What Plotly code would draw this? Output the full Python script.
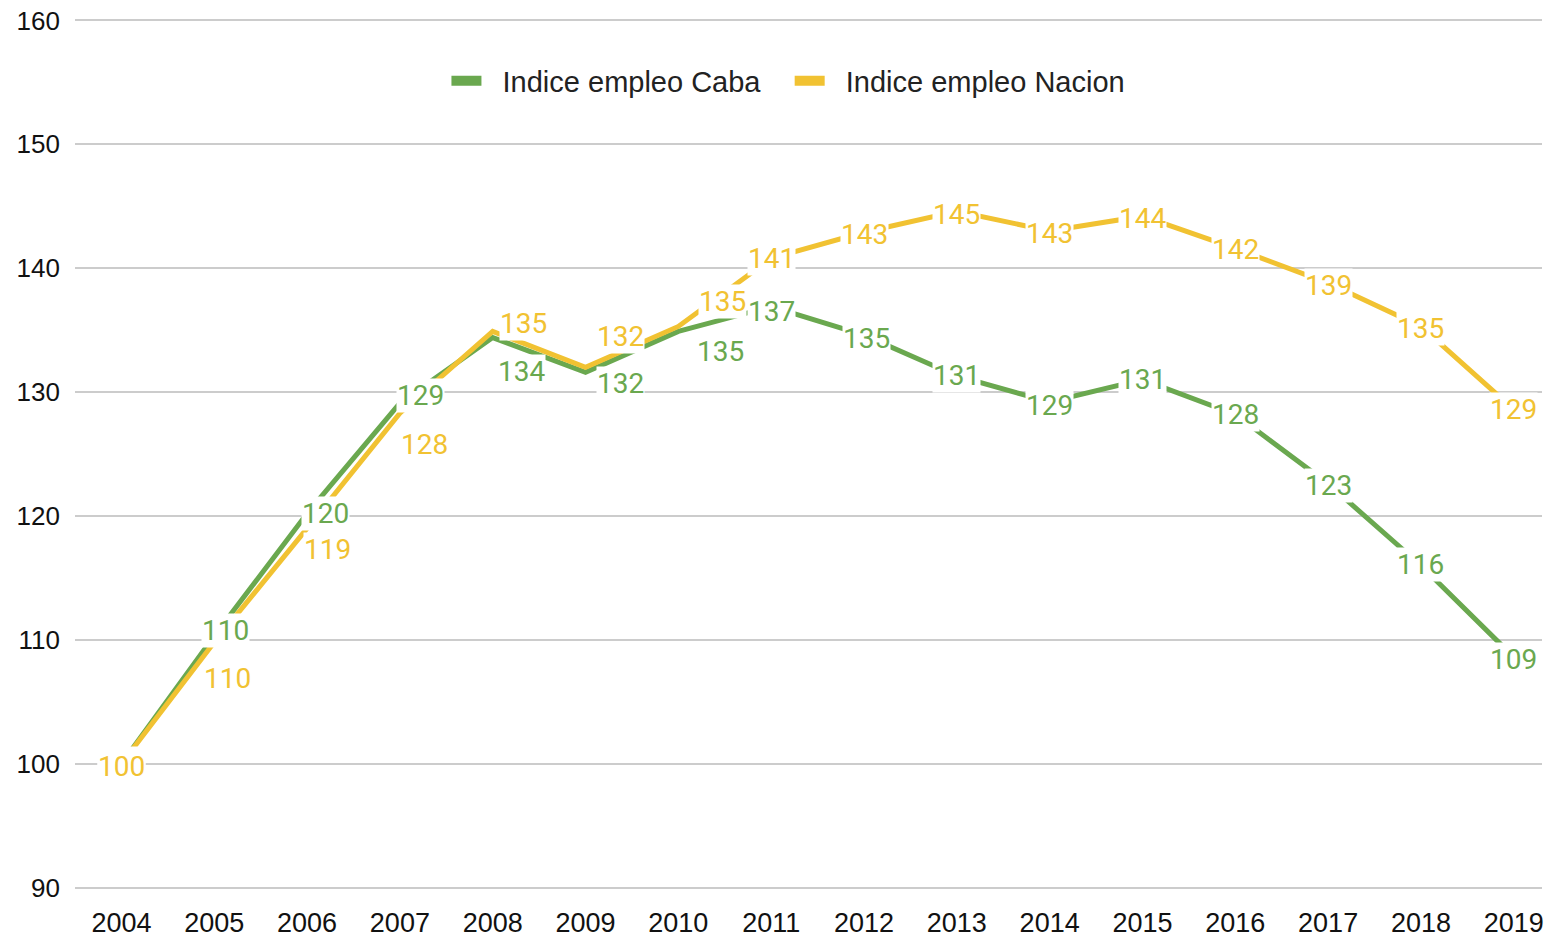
import plotly.graph_objects as go

years = list(range(2004, 2020))
tick_labels = [str(y) for y in years]
caba = [100, 110.3, 120.2, 129.1, 134.4, 131.6, 134.9, 136.9, 134.6, 131.3, 129.2, 131.0, 128.2, 122.6, 116.0, 108.6]
nacion = [100, 109.8, 119.0, 128.3, 134.9, 132.0, 135.3, 140.8, 142.9, 144.6, 143.0, 144.2, 141.6, 138.8, 135.3, 128.6]
series_names = ["Indice empleo Caba", "Indice empleo Nacion"]

# label placement offsets (pixels) for the data labels
caba_dx = [0, 11, 18, 21, 29, 35, 42, 0, 2, 0, 0, 0, 0, 0, 0, 0]
caba_dy = [0, 6, 0, 8, -34, -11, -20, -5, -3, 0, -4, 0, 0, -2, 1, -2]
nacion_dx = [0, 13, 20, 25, 31, 35, 44, 0, 0, 0, 0, 0, 0, 0, 0, 0]
nacion_dy = [-3, -36, -21, -31, 8, 31, 25, 0, -2, -3, -2, -2, -1, -2, -2, 0]

GREEN = "#6aa84f"
YELLOW = "#f1c232"
FONT = "Liberation Sans, Arial, sans-serif"
LABEL_FONT = "Roboto, Liberation Sans, sans-serif"
NB = "\u00a0"

fig = go.Figure()
for name, vals, col in [(series_names[0], caba, GREEN), (series_names[1], nacion, YELLOW)]:
    fig.add_trace(go.Scatter(x=years, y=vals, mode="lines", name=name,
                             line=dict(color=col, width=5), showlegend=False,
                             hoverinfo="skip"))
legend_names = [NB * 2 + series_names[0] + NB * 3, NB * 2 + series_names[1]]
for name, col in [(legend_names[0], GREEN), (legend_names[1], YELLOW)]:
    fig.add_trace(go.Scatter(x=[None], y=[None], mode="lines", name=name,
                             line=dict(color=col, width=10), showlegend=True))

annotations = []
for vals, col, dxs, dys in [(caba, GREEN, caba_dx, caba_dy), (nacion, YELLOW, nacion_dx, nacion_dy)]:
    for x, v, dx, dy in zip(years, vals, dxs, dys):
        annotations.append(dict(x=x, y=v, xref="x", yref="y", text=f"{v:.0f}",
                                showarrow=False, xshift=dx, yshift=dy,
                                bgcolor="white", borderpad=0,
                                font=dict(family=LABEL_FONT, size=28, color=col)))

fig.update_layout(
    width=1544, height=941,
    margin=dict(l=75, r=0, t=18, b=51),
    paper_bgcolor="white", plot_bgcolor="white",
    annotations=annotations,
    legend=dict(orientation="h", x=0.2532, xanchor="left", y=0.928, yanchor="middle",
                font=dict(family=FONT, size=29, color="#222222"),
                bgcolor="rgba(0,0,0,0)"),
    xaxis=dict(range=[2003.5, 2003.5 + 1469 / 92.95], tickvals=years, ticktext=tick_labels,
               showgrid=False, zeroline=False, showline=False, ticks="",
               tickfont=dict(family=FONT, size=27, color="#111111"),
               ticklabeloverflow="allow", ticklabelstandoff=14),
    yaxis=dict(range=[89.8, 160.2], tickvals=[90, 100, 110, 120, 130, 140, 150, 160],
               showgrid=True, gridcolor="#cccccc",
               gridwidth=2, zeroline=False, showline=False, ticks="",
               tickfont=dict(family=FONT, size=26, color="#111111"),
               ticklabelstandoff=14),
)

fig.write_html("out.html", config={"displayModeBar": False},
               post_script="document.body.style.margin='0';document.body.style.overflow='hidden';")
